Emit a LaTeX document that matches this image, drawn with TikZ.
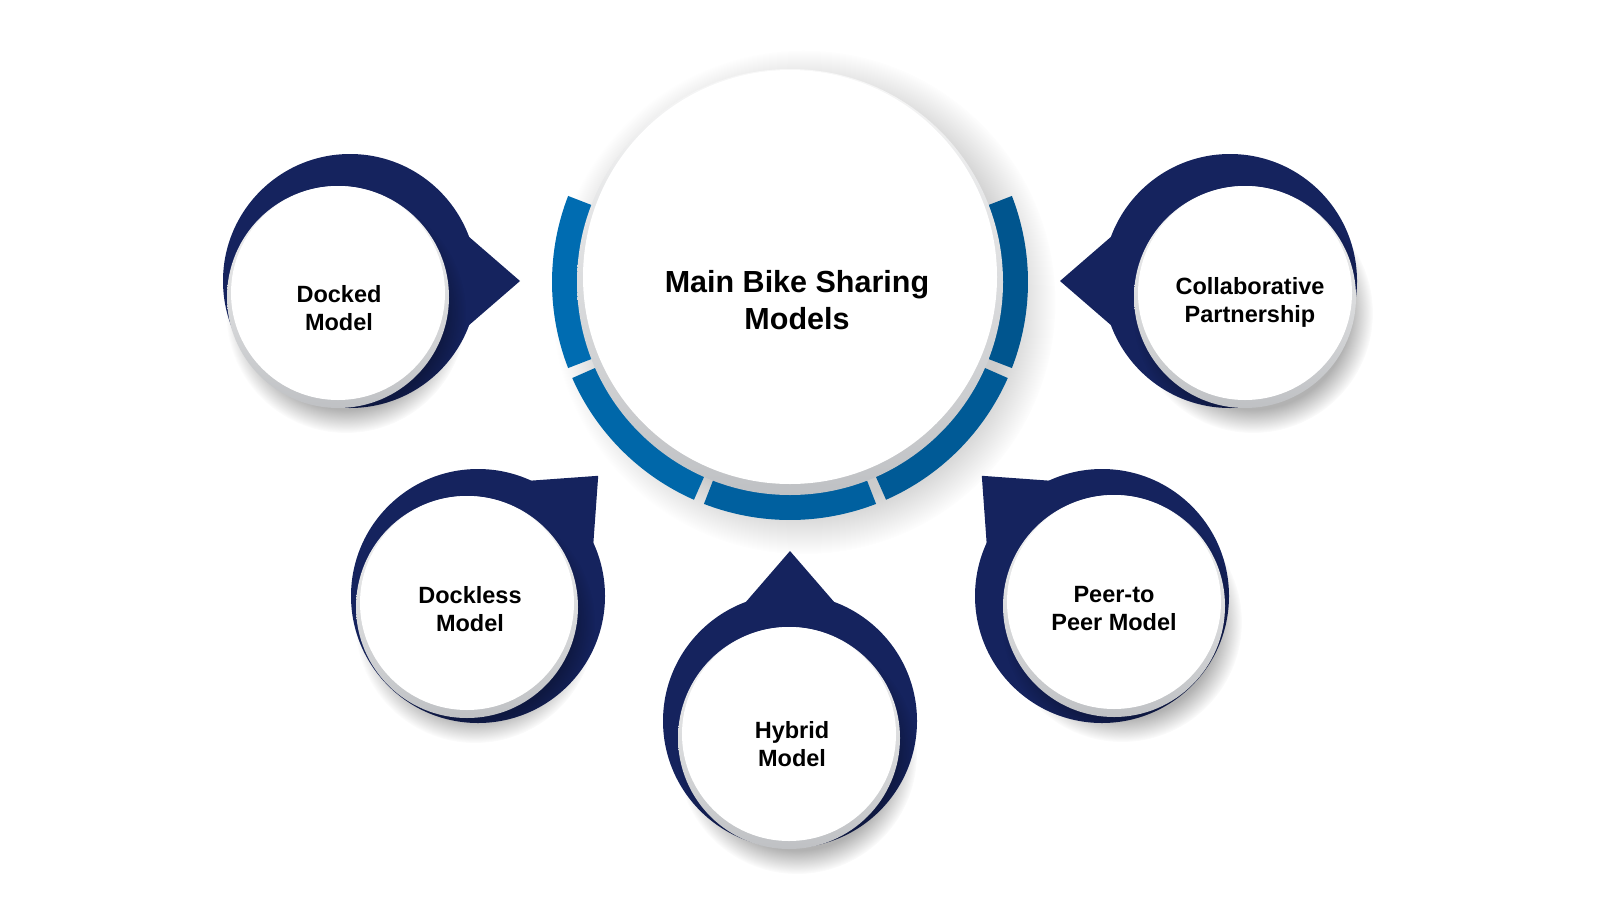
\documentclass[tikz,border=0pt]{standalone}
\usepackage{fontspec}
\setmainfont{Liberation Sans}
\usetikzlibrary{calc,fadings}
\definecolor{bsnavy}{HTML}{15235E}
\definecolor{bsblue}{HTML}{006CB1}
\definecolor{bsbluedark}{HTML}{00528A}
\definecolor{bsrim}{HTML}{BFC1C4}

\begin{document}
\begin{tikzpicture}[x=1pt, y=-1pt,
  bubble/.style={fill=bsnavy},
  rim/.style={top color=gray!6, bottom color=bsrim},
  face/.style={fill=white},
  softshadow/.style={fill=black, opacity=0.3, path fading=circle with fuzzy edge 20 percent},
  lbl/.style={font=\fontsize{23.5}{28}\selectfont\bfseries, align=center, text=black},
  title/.style={font=\fontsize{30.5}{37}\selectfont\bfseries, align=center, text=black}
]
\useasboundingbox (0,0) rectangle (1600,900);

% Hub with segmented ring
\coordinate (hub) at (790,282);
\fill[softshadow, opacity=0.2] ($(hub)+(14,20)$) circle (252);
\foreach \s/\e/\m in {-21.2/21.2/10, 23.8/66.2/30, 68.8/111.2/55, 113.8/156.2/80, 158.8/201.2/100}
  \fill[bsblue!\m!bsbluedark] ($(hub)+(\s:238)$) arc[start angle=\s, end angle=\e, radius=238]
    -- ($(hub)+(\e:206)$) arc[start angle=\e, end angle=\s, radius=206] -- cycle;
\path[rim] (hub) circle (213);
\fill[face] ($(hub)+(0,-5)$) circle (207);
\node[title] (hubtext) at (797,300) {Main Bike Sharing\\Models};

% Model bubbles (navy drop pointing at the hub)
\foreach \nm/\cx/\cy/\ang/\wx/\wy in {docked/350/281/0/338/297, collab/1230/281/180/1245/297,
    dockless/478/596/-45/467/607, peer/1102/596/-135/1114/606, hybrid/790/721/-90/789/738}{
  \coordinate (\nm) at (\cx,\cy);
  \coordinate (\nm face) at (\wx,\wy);
  \fill[bubble] (\nm) circle (127);
  \fill[bubble] (\nm) -- ($(\nm)+(\ang+20.3:127)$) -- ($(\nm)+(\ang:170)$)
    -- ($(\nm)+(\ang-20.3:127)$) -- cycle;
  \fill[softshadow] ($(\nm face)+(8,16)$) circle (120);
  \path[rim] (\nm face) circle (111);
  \fill[face] ($(\nm face)+(0,-4)$) circle (107);
}

% Labels
\node[lbl] (dockedtext) at (339,308) {Docked\\Model};
\node[lbl] (collabtext) at (1250,302) {Collaborative\\Partnership};
\node[lbl] (docklesstext) at (470,609) {Dockless\\Model};
\node[lbl] (peertext) at (1114,609) {Peer-to\\Peer Model};
\node[lbl] (hybridtext) at (792,744) {Hybrid\\Model};

\end{tikzpicture}
\end{document}
